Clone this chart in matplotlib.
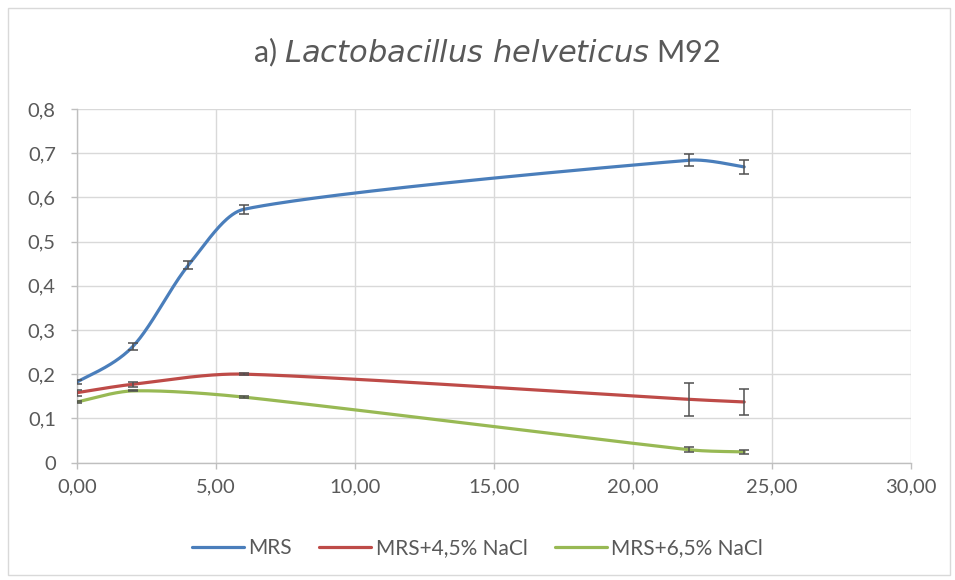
import numpy as np
import matplotlib.pyplot as plt
from matplotlib.patches import Rectangle

# data (time, h vs OD)
x_mrs = [0, 2, 4, 6, 22, 24]
y_mrs = [0.182, 0.262, 0.446, 0.573, 0.684, 0.669]
e_mrs = [0.004, 0.008, 0.009, 0.010, 0.014, 0.015]

x_salt = [0, 2, 6, 22, 24]
y_45 = [0.158, 0.177, 0.200, 0.143, 0.137]
e_45 = [0.007, 0.006, 0.003, 0.037, 0.029]
y_65 = [0.137, 0.162, 0.148, 0.029, 0.024]
e_65 = [0.003, 0.001, 0.003, 0.005, 0.005]

labels = ["MRS", "MRS+4,5% NaCl", "MRS+6,5% NaCl"]
colors = ["#4A7EBB", "#BE4B48", "#98B954"]


def smooth(x, y, n=60):
    """Excel-like smoothed line: Bezier segments with Catmull-Rom tangents,
    shortened where needed so a segment never folds back in x."""
    p = np.column_stack([x, y]).astype(float)
    pad = np.vstack([p[0], p, p[-1]])
    d = (pad[2:] - pad[:-2]) / 6  # tangent at each point
    t = np.linspace(0, 1, n)[:, None]
    out = []
    for i in range(len(p) - 1):
        h = p[i + 1, 0] - p[i, 0]
        d0 = d[i] * min(1.0, (h / 3) / d[i][0])
        d1 = d[i + 1] * min(1.0, (h / 3) / d[i + 1][0])
        p0, p3 = p[i], p[i + 1]
        p1, p2 = p0 + d0, p3 - d1
        seg = (1 - t)**3 * p0 + 3 * (1 - t)**2 * t * p1 + 3 * (1 - t) * t**2 * p2 + t**3 * p3
        out.append(seg)
    out = np.vstack(out)
    return out[:, 0], out[:, 1]


plt.rcParams['font.family'] = ['Lato', 'DejaVu Sans']
txt = "#595959"

fig = plt.figure(figsize=(9.55, 5.8), dpi=100)
ax = fig.add_axes([77 / 955, 1 - 462.5 / 580, 834 / 955, 353.5 / 580])

series = [(x_mrs, y_mrs, e_mrs), (x_salt, y_45, e_45), (x_salt, y_65, e_65)]
for (xs, ys, es), lab, c in zip(series, labels, colors):
    sx, sy = smooth(xs, ys)
    ax.plot(sx, sy, color=c, lw=2.3, label=lab, zorder=3, solid_capstyle='round')
    ax.errorbar(xs, ys, yerr=es, fmt='none', ecolor="#505050", elinewidth=1.1,
                capsize=3.6, capthick=1.1, zorder=4)

ax.set_xlim(0, 30)
ax.set_ylim(0, 0.8)
ax.set_xticks(np.arange(0, 31, 5))
ax.set_xticklabels([f"{v:.2f}".replace(".", ",") for v in np.arange(0, 31, 5)])
ax.set_yticks(np.arange(0, 0.81, 0.1))
ax.set_yticklabels(["0"] + [f"{v:.1f}".replace(".", ",") for v in np.arange(0.1, 0.81, 0.1)])
ax.grid(True, color="#D9D9D9", lw=1.0)
ax.set_axisbelow(True)
for s in ["top", "right"]:
    ax.spines[s].set_visible(False)
for s in ["left", "bottom"]:
    ax.spines[s].set_color("#BFBFBF")
    ax.spines[s].set_linewidth(1.0)
ax.tick_params(colors="#BFBFBF", labelcolor=txt, labelsize=14.5, length=4.3, width=1.0)
ax.tick_params(axis='x', pad=7)
ax.tick_params(axis='y', pad=11)

fig.text(0.51, 1 - 52 / 580, r"a) $\mathit{Lactobacillus\ helveticus}$ M92",
         ha="center", va="center", fontsize=22, color=txt)

fig.legend(loc="center", bbox_to_anchor=(0.5, 1 - 548 / 580), ncol=3, frameon=False,
           fontsize=15, handlelength=2.5, handletextpad=0.2, columnspacing=1.3,
           labelcolor=txt)

# thin border round the whole chart
fig.patches.append(Rectangle((8 / 955, 5 / 580), 942 / 955, 567 / 580, transform=fig.transFigure,
                             fill=False, edgecolor="#D9D9D9", lw=1.0))

fig.savefig("out.png", dpi=100)
